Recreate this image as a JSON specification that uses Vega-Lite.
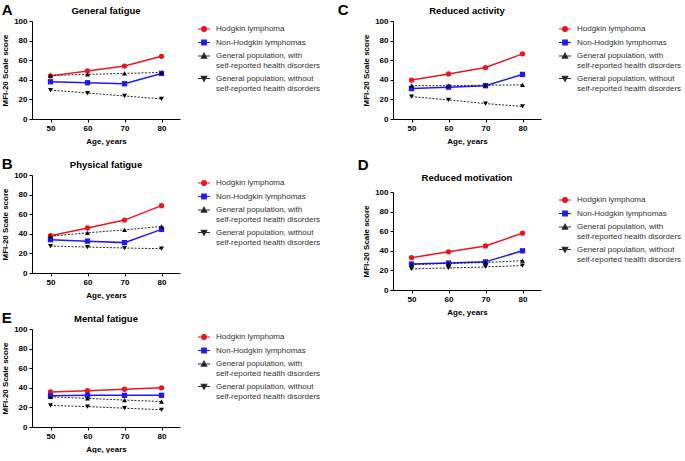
{
  "$schema": "https://vega.github.io/schema/vega-lite/v6.json",
  "padding": {"left": 1, "top": 2, "right": 0, "bottom": 0},
  "datasets": {
    "mfi": [
      {"panel": "A", "series": "Hodgkin lymphoma", "age": 50, "score": 44},
      {"panel": "A", "series": "Hodgkin lymphoma", "age": 60, "score": 49},
      {"panel": "A", "series": "Hodgkin lymphoma", "age": 70, "score": 54},
      {"panel": "A", "series": "Hodgkin lymphoma", "age": 80, "score": 64},
      {"panel": "A", "series": "Non-Hodgkin lymphomas", "age": 50, "score": 38},
      {"panel": "A", "series": "Non-Hodgkin lymphomas", "age": 60, "score": 37},
      {"panel": "A", "series": "Non-Hodgkin lymphomas", "age": 70, "score": 36},
      {"panel": "A", "series": "Non-Hodgkin lymphomas", "age": 80, "score": 46.5},
      {"panel": "A", "series": "General population, with self-reported health disorders", "age": 50, "score": 44.5},
      {"panel": "A", "series": "General population, with self-reported health disorders", "age": 60, "score": 45.5},
      {"panel": "A", "series": "General population, with self-reported health disorders", "age": 70, "score": 46.5},
      {"panel": "A", "series": "General population, with self-reported health disorders", "age": 80, "score": 47.5},
      {"panel": "A", "series": "General population, without self-reported health disorders", "age": 50, "score": 29.5},
      {"panel": "A", "series": "General population, without self-reported health disorders", "age": 60, "score": 26.5},
      {"panel": "A", "series": "General population, without self-reported health disorders", "age": 70, "score": 23.5},
      {"panel": "A", "series": "General population, without self-reported health disorders", "age": 80, "score": 20.5},

      {"panel": "B", "series": "Hodgkin lymphoma", "age": 50, "score": 38},
      {"panel": "B", "series": "Hodgkin lymphoma", "age": 60, "score": 46},
      {"panel": "B", "series": "Hodgkin lymphoma", "age": 70, "score": 54},
      {"panel": "B", "series": "Hodgkin lymphoma", "age": 80, "score": 68.7},
      {"panel": "B", "series": "Non-Hodgkin lymphomas", "age": 50, "score": 34},
      {"panel": "B", "series": "Non-Hodgkin lymphomas", "age": 60, "score": 32.5},
      {"panel": "B", "series": "Non-Hodgkin lymphomas", "age": 70, "score": 31},
      {"panel": "B", "series": "Non-Hodgkin lymphomas", "age": 80, "score": 44.5},
      {"panel": "B", "series": "General population, with self-reported health disorders", "age": 50, "score": 37.5},
      {"panel": "B", "series": "General population, with self-reported health disorders", "age": 60, "score": 41},
      {"panel": "B", "series": "General population, with self-reported health disorders", "age": 70, "score": 44},
      {"panel": "B", "series": "General population, with self-reported health disorders", "age": 80, "score": 47.5},
      {"panel": "B", "series": "General population, without self-reported health disorders", "age": 50, "score": 27.5},
      {"panel": "B", "series": "General population, without self-reported health disorders", "age": 60, "score": 26.5},
      {"panel": "B", "series": "General population, without self-reported health disorders", "age": 70, "score": 25.5},
      {"panel": "B", "series": "General population, without self-reported health disorders", "age": 80, "score": 24.8},

      {"panel": "C", "series": "Hodgkin lymphoma", "age": 50, "score": 39.7},
      {"panel": "C", "series": "Hodgkin lymphoma", "age": 60, "score": 46},
      {"panel": "C", "series": "Hodgkin lymphoma", "age": 70, "score": 52.5},
      {"panel": "C", "series": "Hodgkin lymphoma", "age": 80, "score": 66.5},
      {"panel": "C", "series": "Non-Hodgkin lymphomas", "age": 50, "score": 31},
      {"panel": "C", "series": "Non-Hodgkin lymphomas", "age": 60, "score": 32.5},
      {"panel": "C", "series": "Non-Hodgkin lymphomas", "age": 70, "score": 34},
      {"panel": "C", "series": "Non-Hodgkin lymphomas", "age": 80, "score": 45.5},
      {"panel": "C", "series": "General population, with self-reported health disorders", "age": 50, "score": 34},
      {"panel": "C", "series": "General population, with self-reported health disorders", "age": 60, "score": 34},
      {"panel": "C", "series": "General population, with self-reported health disorders", "age": 70, "score": 34.5},
      {"panel": "C", "series": "General population, with self-reported health disorders", "age": 80, "score": 34.8},
      {"panel": "C", "series": "General population, without self-reported health disorders", "age": 50, "score": 22.8},
      {"panel": "C", "series": "General population, without self-reported health disorders", "age": 60, "score": 19.5},
      {"panel": "C", "series": "General population, without self-reported health disorders", "age": 70, "score": 15.7},
      {"panel": "C", "series": "General population, without self-reported health disorders", "age": 80, "score": 12.8},

      {"panel": "D", "series": "Hodgkin lymphoma", "age": 50, "score": 33},
      {"panel": "D", "series": "Hodgkin lymphoma", "age": 60, "score": 39},
      {"panel": "D", "series": "Hodgkin lymphoma", "age": 70, "score": 45},
      {"panel": "D", "series": "Hodgkin lymphoma", "age": 80, "score": 58},
      {"panel": "D", "series": "Non-Hodgkin lymphomas", "age": 50, "score": 26.5},
      {"panel": "D", "series": "Non-Hodgkin lymphomas", "age": 60, "score": 27.5},
      {"panel": "D", "series": "Non-Hodgkin lymphomas", "age": 70, "score": 28.7},
      {"panel": "D", "series": "Non-Hodgkin lymphomas", "age": 80, "score": 40},
      {"panel": "D", "series": "General population, with self-reported health disorders", "age": 50, "score": 26},
      {"panel": "D", "series": "General population, with self-reported health disorders", "age": 60, "score": 27},
      {"panel": "D", "series": "General population, with self-reported health disorders", "age": 70, "score": 28},
      {"panel": "D", "series": "General population, with self-reported health disorders", "age": 80, "score": 30},
      {"panel": "D", "series": "General population, without self-reported health disorders", "age": 50, "score": 21.5},
      {"panel": "D", "series": "General population, without self-reported health disorders", "age": 60, "score": 22.5},
      {"panel": "D", "series": "General population, without self-reported health disorders", "age": 70, "score": 23.5},
      {"panel": "D", "series": "General population, without self-reported health disorders", "age": 80, "score": 25},

      {"panel": "E", "series": "Hodgkin lymphoma", "age": 50, "score": 35.8},
      {"panel": "E", "series": "Hodgkin lymphoma", "age": 60, "score": 37},
      {"panel": "E", "series": "Hodgkin lymphoma", "age": 70, "score": 38.5},
      {"panel": "E", "series": "Hodgkin lymphoma", "age": 80, "score": 40},
      {"panel": "E", "series": "Non-Hodgkin lymphomas", "age": 50, "score": 32},
      {"panel": "E", "series": "Non-Hodgkin lymphomas", "age": 60, "score": 32.3},
      {"panel": "E", "series": "Non-Hodgkin lymphomas", "age": 70, "score": 32.3},
      {"panel": "E", "series": "Non-Hodgkin lymphomas", "age": 80, "score": 32.3},
      {"panel": "E", "series": "General population, with self-reported health disorders", "age": 50, "score": 30.8},
      {"panel": "E", "series": "General population, with self-reported health disorders", "age": 60, "score": 29.2},
      {"panel": "E", "series": "General population, with self-reported health disorders", "age": 70, "score": 27.5},
      {"panel": "E", "series": "General population, with self-reported health disorders", "age": 80, "score": 26},
      {"panel": "E", "series": "General population, without self-reported health disorders", "age": 50, "score": 22},
      {"panel": "E", "series": "General population, without self-reported health disorders", "age": 60, "score": 20.8},
      {"panel": "E", "series": "General population, without self-reported health disorders", "age": 70, "score": 19.2},
      {"panel": "E", "series": "General population, without self-reported health disorders", "age": 80, "score": 17.6}
    ]
  },
  "data": {"name": "mfi"},
  "config": {
    "font": "Liberation Sans",
    "view": {"stroke": null},
    "axis": {"grid": false, "domainColor": "#000", "tickColor": "#000", "labelFontSize": 8, "labelFontWeight": "bold", "labelColor": "#000", "titleFontSize": 8, "titleFontWeight": "bold", "titleColor": "#000", "tickSize": 3, "labelPadding": 2, "domainWidth": 1, "tickWidth": 1},
    "axisX": {"titlePadding": 5},
    "axisY": {"titlePadding": 4},
    "title": {"fontSize": 9.5, "fontWeight": "bold", "color": "#000", "offset": 2, "frame": "group"},
    "legend": {
      "orient": "right", "offset": 16, "padding": 1, "title": null,
      "labelFontSize": 8, "labelColor": "#333", "labelLimit": 300, "labelOffset": 5, "rowPadding": 1.5,
      "symbolSize": 144, "symbolStrokeWidth": 1.2, "symbolOpacity": 1
    }
  },
  "resolve": {"scale": {"color": "independent", "fill": "independent", "stroke": "independent", "shape": "independent"}, "legend": {"color": "independent", "fill": "independent", "stroke": "independent", "shape": "independent"}},
  "spacing": 15,
  "hconcat": [
    {
      "spacing": 11,
      "resolve": {"scale": {"color": "independent", "fill": "independent", "stroke": "independent", "shape": "independent"}, "legend": {"color": "independent", "fill": "independent", "stroke": "independent", "shape": "independent"}},
      "vconcat": [
        {
          "title": {"text": "A", "anchor": "start", "frame": "bounds", "fontSize": 15, "offset": -24, "baseline": "alphabetic"},
          "resolve": {"scale": {"color": "independent", "fill": "independent", "stroke": "independent", "shape": "independent"}, "legend": {"color": "independent", "fill": "independent", "stroke": "independent", "shape": "independent"}},
          "vconcat": [
            {
              "title": "General fatigue",
              "width": 148, "height": 98,
              "transform": [{"filter": "datum.panel === 'A'"}],
              "encoding": {
                "x": {"field": "age", "type": "quantitative", "scale": {"domain": [45, 85]}, "axis": {"values": [50, 60, 70, 80], "title": "Age, years"}},
                "y": {"field": "score", "type": "quantitative", "scale": {"domain": [0, 100]}, "axis": {"values": [0, 20, 40, 60, 80, 100], "title": "MFI-20 Scale score"}}
              },
              "layer": [
                {"mark": {"type": "point", "filled": true, "opacity": 0.01, "size": 144, "strokeWidth": 1.2},
                  "encoding": {
                    "fill": {"field": "series", "type": "nominal", "scale": {"domain": ["Hodgkin lymphoma", "Non-Hodgkin lymphomas", "General population, with self-reported health disorders", "General population, without self-reported health disorders"], "range": ["#e8161f", "#1c1cf0", "#000000", "#000000"]},
                      "legend": {"labelExpr": "indexof(datum.label, ', without') >= 0 ? ['General population, without', 'self-reported health disorders'] : indexof(datum.label, ', with') >= 0 ? ['General population, with', 'self-reported health disorders'] : datum.label"}},
                    "stroke": {"field": "series", "type": "nominal", "scale": {"domain": ["Hodgkin lymphoma", "Non-Hodgkin lymphomas", "General population, with self-reported health disorders", "General population, without self-reported health disorders"], "range": ["#e8161f", "#1c1cf0", "#333333", "#333333"]},
                      "legend": {"labelExpr": "indexof(datum.label, ', without') >= 0 ? ['General population, without', 'self-reported health disorders'] : indexof(datum.label, ', with') >= 0 ? ['General population, with', 'self-reported health disorders'] : datum.label"}},
                    "shape": {"field": "series", "type": "nominal", "scale": {"domain": ["Hodgkin lymphoma", "Non-Hodgkin lymphomas", "General population, with self-reported health disorders", "General population, without self-reported health disorders"], "range": ["M-1,0H1M-0.4,0A0.4,0.4,0,1,1,0.4,0A0.4,0.4,0,1,1,-0.4,0Z", "M-1,0H1M-0.38,-0.38H0.38V0.38H-0.38Z", "M-1,0H1M0,-0.45L0.45,0.35H-0.45Z", "M-1,0H1M-0.45,-0.35H0.45L0,0.45Z"]},
                      "legend": {"labelExpr": "indexof(datum.label, ', without') >= 0 ? ['General population, without', 'self-reported health disorders'] : indexof(datum.label, ', with') >= 0 ? ['General population, with', 'self-reported health disorders'] : datum.label"}}
                  }},
                {"transform": [{"filter": "indexof(datum.series, 'General') < 0"}], "mark": {"type": "line", "strokeWidth": 1.5},
                  "encoding": {"color": {"field": "series", "type": "nominal", "legend": null, "scale": {"domain": ["Hodgkin lymphoma", "Non-Hodgkin lymphomas", "General population, with self-reported health disorders", "General population, without self-reported health disorders"], "range": ["#e8161f", "#1c1cf0", "#111111", "#111111"]}}}},
                {"transform": [{"filter": "indexof(datum.series, 'General') >= 0"}], "mark": {"type": "line", "strokeWidth": 0.9, "strokeDash": [2, 1.5], "color": "#111111"}, "encoding": {"detail": {"field": "series"}}},
                {"transform": [{"filter": "datum.series === 'Hodgkin lymphoma'"}], "mark": {"type": "point", "shape": "circle", "filled": true, "opacity": 1, "size": 28, "color": "#e8161f"}},
                {"transform": [{"filter": "datum.series === 'Non-Hodgkin lymphomas'"}], "mark": {"type": "point", "shape": "square", "filled": true, "opacity": 1, "size": 28, "color": "#1c1cf0"}},
                {"transform": [{"filter": "indexof(datum.series, ', with ') >= 0"}], "mark": {"type": "point", "shape": "triangle-up", "filled": true, "opacity": 1, "size": 24, "color": "#000000"}},
                {"transform": [{"filter": "indexof(datum.series, ', without ') >= 0"}], "mark": {"type": "point", "shape": "triangle-down", "filled": true, "opacity": 1, "size": 24, "color": "#000000"}}
              ]
            }
          ]
        },
        {
          "title": {"text": "B", "anchor": "start", "frame": "bounds", "fontSize": 15, "offset": -24, "baseline": "alphabetic"},
          "resolve": {"scale": {"color": "independent", "fill": "independent", "stroke": "independent", "shape": "independent"}, "legend": {"color": "independent", "fill": "independent", "stroke": "independent", "shape": "independent"}},
          "vconcat": [
            {
              "title": "Physical fatigue",
              "width": 148, "height": 98,
              "transform": [{"filter": "datum.panel === 'B'"}],
              "encoding": {
                "x": {"field": "age", "type": "quantitative", "scale": {"domain": [45, 85]}, "axis": {"values": [50, 60, 70, 80], "title": "Age, years"}},
                "y": {"field": "score", "type": "quantitative", "scale": {"domain": [0, 100]}, "axis": {"values": [0, 20, 40, 60, 80, 100], "title": "MFI-20 Scale score"}}
              },
              "layer": [
                {"mark": {"type": "point", "filled": true, "opacity": 0.01, "size": 144, "strokeWidth": 1.2},
                  "encoding": {
                    "fill": {"field": "series", "type": "nominal", "scale": {"domain": ["Hodgkin lymphoma", "Non-Hodgkin lymphomas", "General population, with self-reported health disorders", "General population, without self-reported health disorders"], "range": ["#e8161f", "#1c1cf0", "#000000", "#000000"]},
                      "legend": {"labelExpr": "indexof(datum.label, ', without') >= 0 ? ['General population, without', 'self-reported health disorders'] : indexof(datum.label, ', with') >= 0 ? ['General population, with', 'self-reported health disorders'] : datum.label"}},
                    "stroke": {"field": "series", "type": "nominal", "scale": {"domain": ["Hodgkin lymphoma", "Non-Hodgkin lymphomas", "General population, with self-reported health disorders", "General population, without self-reported health disorders"], "range": ["#e8161f", "#1c1cf0", "#333333", "#333333"]},
                      "legend": {"labelExpr": "indexof(datum.label, ', without') >= 0 ? ['General population, without', 'self-reported health disorders'] : indexof(datum.label, ', with') >= 0 ? ['General population, with', 'self-reported health disorders'] : datum.label"}},
                    "shape": {"field": "series", "type": "nominal", "scale": {"domain": ["Hodgkin lymphoma", "Non-Hodgkin lymphomas", "General population, with self-reported health disorders", "General population, without self-reported health disorders"], "range": ["M-1,0H1M-0.4,0A0.4,0.4,0,1,1,0.4,0A0.4,0.4,0,1,1,-0.4,0Z", "M-1,0H1M-0.38,-0.38H0.38V0.38H-0.38Z", "M-1,0H1M0,-0.45L0.45,0.35H-0.45Z", "M-1,0H1M-0.45,-0.35H0.45L0,0.45Z"]},
                      "legend": {"labelExpr": "indexof(datum.label, ', without') >= 0 ? ['General population, without', 'self-reported health disorders'] : indexof(datum.label, ', with') >= 0 ? ['General population, with', 'self-reported health disorders'] : datum.label"}}
                  }},
                {"transform": [{"filter": "indexof(datum.series, 'General') < 0"}], "mark": {"type": "line", "strokeWidth": 1.5},
                  "encoding": {"color": {"field": "series", "type": "nominal", "legend": null, "scale": {"domain": ["Hodgkin lymphoma", "Non-Hodgkin lymphomas", "General population, with self-reported health disorders", "General population, without self-reported health disorders"], "range": ["#e8161f", "#1c1cf0", "#111111", "#111111"]}}}},
                {"transform": [{"filter": "indexof(datum.series, 'General') >= 0"}], "mark": {"type": "line", "strokeWidth": 0.9, "strokeDash": [2, 1.5], "color": "#111111"}, "encoding": {"detail": {"field": "series"}}},
                {"transform": [{"filter": "datum.series === 'Hodgkin lymphoma'"}], "mark": {"type": "point", "shape": "circle", "filled": true, "opacity": 1, "size": 28, "color": "#e8161f"}},
                {"transform": [{"filter": "datum.series === 'Non-Hodgkin lymphomas'"}], "mark": {"type": "point", "shape": "square", "filled": true, "opacity": 1, "size": 28, "color": "#1c1cf0"}},
                {"transform": [{"filter": "indexof(datum.series, ', with ') >= 0"}], "mark": {"type": "point", "shape": "triangle-up", "filled": true, "opacity": 1, "size": 24, "color": "#000000"}},
                {"transform": [{"filter": "indexof(datum.series, ', without ') >= 0"}], "mark": {"type": "point", "shape": "triangle-down", "filled": true, "opacity": 1, "size": 24, "color": "#000000"}}
              ]
            }
          ]
        },
        {
          "title": {"text": "E", "anchor": "start", "frame": "bounds", "fontSize": 15, "offset": -24, "baseline": "alphabetic"},
          "resolve": {"scale": {"color": "independent", "fill": "independent", "stroke": "independent", "shape": "independent"}, "legend": {"color": "independent", "fill": "independent", "stroke": "independent", "shape": "independent"}},
          "vconcat": [
            {
              "title": "Mental fatigue",
              "width": 148, "height": 98,
              "transform": [{"filter": "datum.panel === 'E'"}],
              "encoding": {
                "x": {"field": "age", "type": "quantitative", "scale": {"domain": [45, 85]}, "axis": {"values": [50, 60, 70, 80], "title": "Age, years"}},
                "y": {"field": "score", "type": "quantitative", "scale": {"domain": [0, 100]}, "axis": {"values": [0, 20, 40, 60, 80, 100], "title": "MFI-20 Scale score"}}
              },
              "layer": [
                {"mark": {"type": "point", "filled": true, "opacity": 0.01, "size": 144, "strokeWidth": 1.2},
                  "encoding": {
                    "fill": {"field": "series", "type": "nominal", "scale": {"domain": ["Hodgkin lymphoma", "Non-Hodgkin lymphomas", "General population, with self-reported health disorders", "General population, without self-reported health disorders"], "range": ["#e8161f", "#1c1cf0", "#000000", "#000000"]},
                      "legend": {"labelExpr": "indexof(datum.label, ', without') >= 0 ? ['General population, without', 'self-reported health disorders'] : indexof(datum.label, ', with') >= 0 ? ['General population, with', 'self-reported health disorders'] : datum.label"}},
                    "stroke": {"field": "series", "type": "nominal", "scale": {"domain": ["Hodgkin lymphoma", "Non-Hodgkin lymphomas", "General population, with self-reported health disorders", "General population, without self-reported health disorders"], "range": ["#e8161f", "#1c1cf0", "#333333", "#333333"]},
                      "legend": {"labelExpr": "indexof(datum.label, ', without') >= 0 ? ['General population, without', 'self-reported health disorders'] : indexof(datum.label, ', with') >= 0 ? ['General population, with', 'self-reported health disorders'] : datum.label"}},
                    "shape": {"field": "series", "type": "nominal", "scale": {"domain": ["Hodgkin lymphoma", "Non-Hodgkin lymphomas", "General population, with self-reported health disorders", "General population, without self-reported health disorders"], "range": ["M-1,0H1M-0.4,0A0.4,0.4,0,1,1,0.4,0A0.4,0.4,0,1,1,-0.4,0Z", "M-1,0H1M-0.38,-0.38H0.38V0.38H-0.38Z", "M-1,0H1M0,-0.45L0.45,0.35H-0.45Z", "M-1,0H1M-0.45,-0.35H0.45L0,0.45Z"]},
                      "legend": {"labelExpr": "indexof(datum.label, ', without') >= 0 ? ['General population, without', 'self-reported health disorders'] : indexof(datum.label, ', with') >= 0 ? ['General population, with', 'self-reported health disorders'] : datum.label"}}
                  }},
                {"transform": [{"filter": "indexof(datum.series, 'General') < 0"}], "mark": {"type": "line", "strokeWidth": 1.5},
                  "encoding": {"color": {"field": "series", "type": "nominal", "legend": null, "scale": {"domain": ["Hodgkin lymphoma", "Non-Hodgkin lymphomas", "General population, with self-reported health disorders", "General population, without self-reported health disorders"], "range": ["#e8161f", "#1c1cf0", "#111111", "#111111"]}}}},
                {"transform": [{"filter": "indexof(datum.series, 'General') >= 0"}], "mark": {"type": "line", "strokeWidth": 0.9, "strokeDash": [2, 1.5], "color": "#111111"}, "encoding": {"detail": {"field": "series"}}},
                {"transform": [{"filter": "datum.series === 'Hodgkin lymphoma'"}], "mark": {"type": "point", "shape": "circle", "filled": true, "opacity": 1, "size": 28, "color": "#e8161f"}},
                {"transform": [{"filter": "datum.series === 'Non-Hodgkin lymphomas'"}], "mark": {"type": "point", "shape": "square", "filled": true, "opacity": 1, "size": 28, "color": "#1c1cf0"}},
                {"transform": [{"filter": "indexof(datum.series, ', with ') >= 0"}], "mark": {"type": "point", "shape": "triangle-up", "filled": true, "opacity": 1, "size": 24, "color": "#000000"}},
                {"transform": [{"filter": "indexof(datum.series, ', without ') >= 0"}], "mark": {"type": "point", "shape": "triangle-down", "filled": true, "opacity": 1, "size": 24, "color": "#000000"}}
              ]
            }
          ]
        }
      ]
    },
    {
      "spacing": 12,
      "resolve": {"scale": {"color": "independent", "fill": "independent", "stroke": "independent", "shape": "independent"}, "legend": {"color": "independent", "fill": "independent", "stroke": "independent", "shape": "independent"}},
      "vconcat": [
        {
          "title": {"text": "C", "anchor": "start", "frame": "bounds", "fontSize": 15, "offset": -24, "baseline": "alphabetic", "dx": -25},
          "resolve": {"scale": {"color": "independent", "fill": "independent", "stroke": "independent", "shape": "independent"}, "legend": {"color": "independent", "fill": "independent", "stroke": "independent", "shape": "independent"}},
          "vconcat": [
            {
              "title": "Reduced activity",
              "width": 148, "height": 98,
              "transform": [{"filter": "datum.panel === 'C'"}],
              "encoding": {
                "x": {"field": "age", "type": "quantitative", "scale": {"domain": [45, 85]}, "axis": {"values": [50, 60, 70, 80], "title": "Age, years"}},
                "y": {"field": "score", "type": "quantitative", "scale": {"domain": [0, 100]}, "axis": {"values": [0, 20, 40, 60, 80, 100], "title": "MFI-20 Scale score"}}
              },
              "layer": [
                {"mark": {"type": "point", "filled": true, "opacity": 0.01, "size": 144, "strokeWidth": 1.2},
                  "encoding": {
                    "fill": {"field": "series", "type": "nominal", "scale": {"domain": ["Hodgkin lymphoma", "Non-Hodgkin lymphomas", "General population, with self-reported health disorders", "General population, without self-reported health disorders"], "range": ["#e8161f", "#1c1cf0", "#000000", "#000000"]},
                      "legend": {"labelExpr": "indexof(datum.label, ', without') >= 0 ? ['General population, without', 'self-reported health disorders'] : indexof(datum.label, ', with') >= 0 ? ['General population, with', 'self-reported health disorders'] : datum.label"}},
                    "stroke": {"field": "series", "type": "nominal", "scale": {"domain": ["Hodgkin lymphoma", "Non-Hodgkin lymphomas", "General population, with self-reported health disorders", "General population, without self-reported health disorders"], "range": ["#e8161f", "#1c1cf0", "#333333", "#333333"]},
                      "legend": {"labelExpr": "indexof(datum.label, ', without') >= 0 ? ['General population, without', 'self-reported health disorders'] : indexof(datum.label, ', with') >= 0 ? ['General population, with', 'self-reported health disorders'] : datum.label"}},
                    "shape": {"field": "series", "type": "nominal", "scale": {"domain": ["Hodgkin lymphoma", "Non-Hodgkin lymphomas", "General population, with self-reported health disorders", "General population, without self-reported health disorders"], "range": ["M-1,0H1M-0.4,0A0.4,0.4,0,1,1,0.4,0A0.4,0.4,0,1,1,-0.4,0Z", "M-1,0H1M-0.38,-0.38H0.38V0.38H-0.38Z", "M-1,0H1M0,-0.45L0.45,0.35H-0.45Z", "M-1,0H1M-0.45,-0.35H0.45L0,0.45Z"]},
                      "legend": {"labelExpr": "indexof(datum.label, ', without') >= 0 ? ['General population, without', 'self-reported health disorders'] : indexof(datum.label, ', with') >= 0 ? ['General population, with', 'self-reported health disorders'] : datum.label"}}
                  }},
                {"transform": [{"filter": "indexof(datum.series, 'General') < 0"}], "mark": {"type": "line", "strokeWidth": 1.5},
                  "encoding": {"color": {"field": "series", "type": "nominal", "legend": null, "scale": {"domain": ["Hodgkin lymphoma", "Non-Hodgkin lymphomas", "General population, with self-reported health disorders", "General population, without self-reported health disorders"], "range": ["#e8161f", "#1c1cf0", "#111111", "#111111"]}}}},
                {"transform": [{"filter": "indexof(datum.series, 'General') >= 0"}], "mark": {"type": "line", "strokeWidth": 0.9, "strokeDash": [2, 1.5], "color": "#111111"}, "encoding": {"detail": {"field": "series"}}},
                {"transform": [{"filter": "datum.series === 'Hodgkin lymphoma'"}], "mark": {"type": "point", "shape": "circle", "filled": true, "opacity": 1, "size": 28, "color": "#e8161f"}},
                {"transform": [{"filter": "datum.series === 'Non-Hodgkin lymphomas'"}], "mark": {"type": "point", "shape": "square", "filled": true, "opacity": 1, "size": 28, "color": "#1c1cf0"}},
                {"transform": [{"filter": "indexof(datum.series, ', with ') >= 0"}], "mark": {"type": "point", "shape": "triangle-up", "filled": true, "opacity": 1, "size": 24, "color": "#000000"}},
                {"transform": [{"filter": "indexof(datum.series, ', without ') >= 0"}], "mark": {"type": "point", "shape": "triangle-down", "filled": true, "opacity": 1, "size": 24, "color": "#000000"}}
              ]
            }
          ]
        },
        {
          "title": {"text": "D", "anchor": "start", "frame": "bounds", "fontSize": 15, "offset": -12, "baseline": "alphabetic", "dx": -5},
          "resolve": {"scale": {"color": "independent", "fill": "independent", "stroke": "independent", "shape": "independent"}, "legend": {"color": "independent", "fill": "independent", "stroke": "independent", "shape": "independent"}},
          "vconcat": [
            {
              "title": {"text": "Reduced motivation", "offset": 6},
              "width": 148, "height": 98,
              "transform": [{"filter": "datum.panel === 'D'"}],
              "encoding": {
                "x": {"field": "age", "type": "quantitative", "scale": {"domain": [45, 85]}, "axis": {"values": [50, 60, 70, 80], "title": "Age, years"}},
                "y": {"field": "score", "type": "quantitative", "scale": {"domain": [0, 100]}, "axis": {"values": [0, 20, 40, 60, 80, 100], "title": "MFI-20 Scale score"}}
              },
              "layer": [
                {"mark": {"type": "point", "filled": true, "opacity": 0.01, "size": 144, "strokeWidth": 1.2},
                  "encoding": {
                    "fill": {"field": "series", "type": "nominal", "scale": {"domain": ["Hodgkin lymphoma", "Non-Hodgkin lymphomas", "General population, with self-reported health disorders", "General population, without self-reported health disorders"], "range": ["#e8161f", "#1c1cf0", "#000000", "#000000"]},
                      "legend": {"labelExpr": "indexof(datum.label, ', without') >= 0 ? ['General population, without', 'self-reported health disorders'] : indexof(datum.label, ', with') >= 0 ? ['General population, with', 'self-reported health disorders'] : datum.label"}},
                    "stroke": {"field": "series", "type": "nominal", "scale": {"domain": ["Hodgkin lymphoma", "Non-Hodgkin lymphomas", "General population, with self-reported health disorders", "General population, without self-reported health disorders"], "range": ["#e8161f", "#1c1cf0", "#333333", "#333333"]},
                      "legend": {"labelExpr": "indexof(datum.label, ', without') >= 0 ? ['General population, without', 'self-reported health disorders'] : indexof(datum.label, ', with') >= 0 ? ['General population, with', 'self-reported health disorders'] : datum.label"}},
                    "shape": {"field": "series", "type": "nominal", "scale": {"domain": ["Hodgkin lymphoma", "Non-Hodgkin lymphomas", "General population, with self-reported health disorders", "General population, without self-reported health disorders"], "range": ["M-1,0H1M-0.4,0A0.4,0.4,0,1,1,0.4,0A0.4,0.4,0,1,1,-0.4,0Z", "M-1,0H1M-0.38,-0.38H0.38V0.38H-0.38Z", "M-1,0H1M0,-0.45L0.45,0.35H-0.45Z", "M-1,0H1M-0.45,-0.35H0.45L0,0.45Z"]},
                      "legend": {"labelExpr": "indexof(datum.label, ', without') >= 0 ? ['General population, without', 'self-reported health disorders'] : indexof(datum.label, ', with') >= 0 ? ['General population, with', 'self-reported health disorders'] : datum.label"}}
                  }},
                {"transform": [{"filter": "indexof(datum.series, 'General') < 0"}], "mark": {"type": "line", "strokeWidth": 1.5},
                  "encoding": {"color": {"field": "series", "type": "nominal", "legend": null, "scale": {"domain": ["Hodgkin lymphoma", "Non-Hodgkin lymphomas", "General population, with self-reported health disorders", "General population, without self-reported health disorders"], "range": ["#e8161f", "#1c1cf0", "#111111", "#111111"]}}}},
                {"transform": [{"filter": "indexof(datum.series, 'General') >= 0"}], "mark": {"type": "line", "strokeWidth": 0.9, "strokeDash": [2, 1.5], "color": "#111111"}, "encoding": {"detail": {"field": "series"}}},
                {"transform": [{"filter": "datum.series === 'Hodgkin lymphoma'"}], "mark": {"type": "point", "shape": "circle", "filled": true, "opacity": 1, "size": 28, "color": "#e8161f"}},
                {"transform": [{"filter": "datum.series === 'Non-Hodgkin lymphomas'"}], "mark": {"type": "point", "shape": "square", "filled": true, "opacity": 1, "size": 28, "color": "#1c1cf0"}},
                {"transform": [{"filter": "indexof(datum.series, ', with ') >= 0"}], "mark": {"type": "point", "shape": "triangle-up", "filled": true, "opacity": 1, "size": 24, "color": "#000000"}},
                {"transform": [{"filter": "indexof(datum.series, ', without ') >= 0"}], "mark": {"type": "point", "shape": "triangle-down", "filled": true, "opacity": 1, "size": 24, "color": "#000000"}}
              ]
            }
          ]
        }
      ]
    }
  ]
}
